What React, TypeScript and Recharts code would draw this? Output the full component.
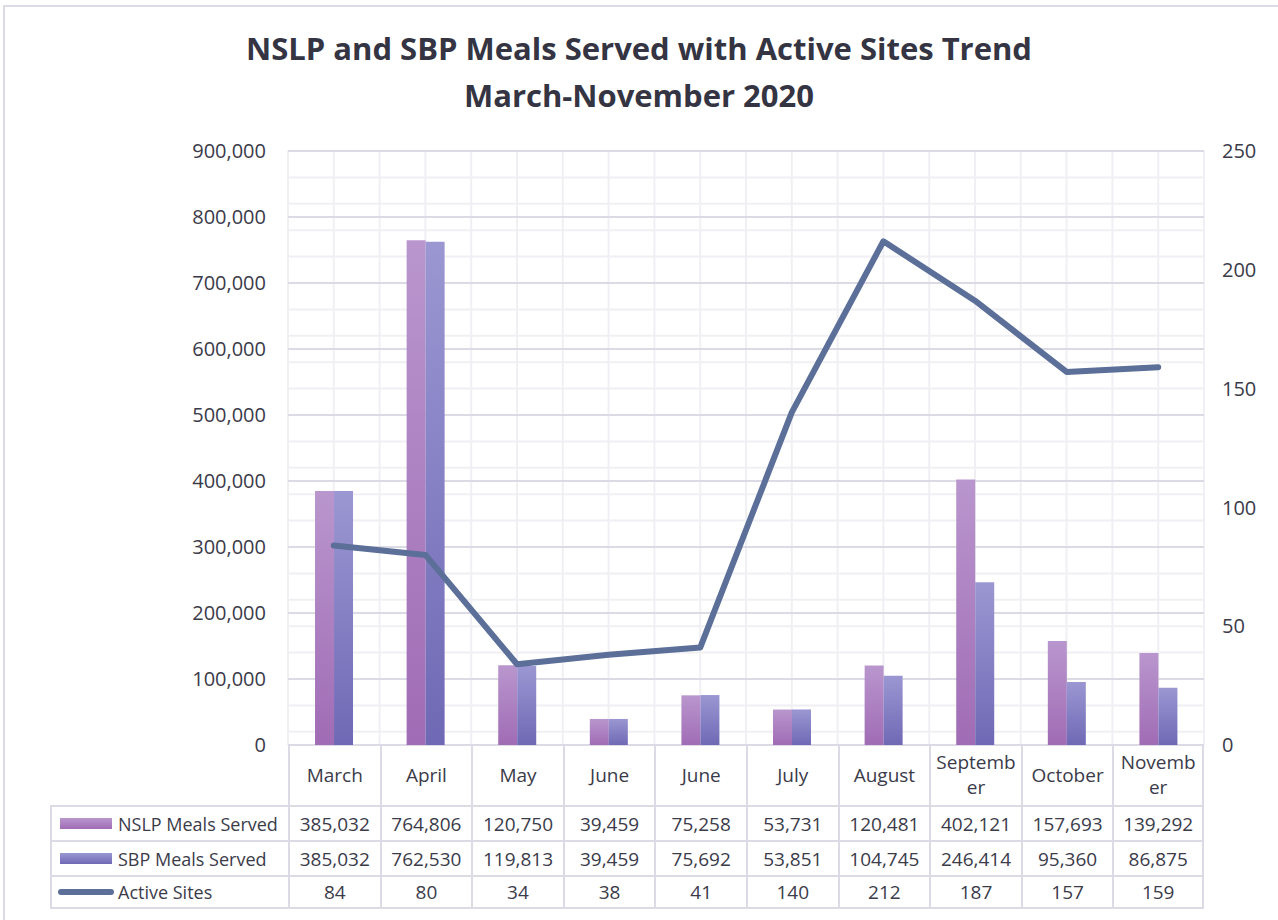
import { ComposedChart, Bar, Line, XAxis, YAxis, CartesianGrid } from 'recharts';

const months = ['March', 'April', 'May', 'June', 'June', 'July', 'August', 'September', 'October', 'November'];
const monthLabels = ['March', 'April', 'May', 'June', 'June', 'July', 'August', 'Septemb\ner', 'October', 'Novemb\ner'];
const nslpMeals = [385032, 764806, 120750, 39459, 75258, 53731, 120481, 402121, 157693, 139292];
const sbpMeals = [385032, 762530, 119813, 39459, 75692, 53851, 104745, 246414, 95360, 86875];
const activeSites = [84, 80, 34, 38, 41, 140, 212, 187, 157, 159];

const leftTicks = [0, 100000, 200000, 300000, 400000, 500000, 600000, 700000, 800000, 900000];
const minorTicks = Array.from({ length: 46 }, (_, i) => i * 20000);
const rightTicks = [0, 50, 100, 150, 200, 250];
const halfTicks = Array.from({ length: 21 }, (_, i) => i);

const data = months.map((m, i) => ({
  month: m,
  idx: i * 2 + 1,
  nslp: nslpMeals[i],
  sbp: sbpMeals[i],
  sites: activeSites[i],
}));

const W = 1278;
const H = 920;
const PL = 288;
const PR = 1204;
const PT = 151;
const PB = 745;
const colW = (PR - PL) / months.length;

const FONT = '"Open Sans", sans-serif';
const TEXT = '#3b3b4a';
const BORDER = '#dcdbe5';

const fmt = (v: number) => v.toLocaleString('en-US');

const rows = [
  { label: 'NSLP Meals Served', values: nslpMeals.map(fmt), kind: 'nslp' },
  { label: 'SBP Meals Served', values: sbpMeals.map(fmt), kind: 'sbp' },
  { label: 'Active Sites', values: activeSites.map(String), kind: 'line' },
];
const rowTops = [805, 840, 875, 909];

function Swatch({ kind }: { kind: string }) {
  if (kind === 'line') {
    return <div style={{ width: 56, height: 6, borderRadius: 3, background: '#5b6f98' }} />;
  }
  const bg = kind === 'nslp'
    ? 'linear-gradient(#b996cd, #a06cb5)'
    : 'linear-gradient(#9b97d2, #6f69b5)';
  return <div style={{ width: 52, height: 11, background: bg, margin: '0 2px' }} />;
}

export default function App() {
  return (
    <div style={{ position: 'absolute', left: 0, top: 0, width: W, height: H, background: '#fff', fontFamily: FONT, color: TEXT }}>
      <div style={{ position: 'absolute', left: 3, top: 5, width: W, height: H, border: `2px solid ${BORDER}`, boxSizing: 'border-box' }} />
      <div style={{ position: 'absolute', left: 0, width: W, top: 25, textAlign: 'center', fontWeight: 700, fontSize: 31, lineHeight: '47px', color: '#343443' }}>
        NSLP and SBP Meals Served with Active Sites Trend
        <br />
        March-November 2020
      </div>
      <div style={{ position: 'absolute', left: 0, top: 0 }}>
        <ComposedChart
          width={W}
          height={H}
          data={data}
          margin={{ top: PT, bottom: H - PB, left: 0, right: 0 }}
          barCategoryGap="29.5%"
          barGap={0}
        >
          <defs>
            <linearGradient id="gNslp" x1="0" y1="0" x2="0" y2="1">
              <stop offset="0%" stopColor="#b996cd" />
              <stop offset="100%" stopColor="#a06cb5" />
            </linearGradient>
            <linearGradient id="gSbp" x1="0" y1="0" x2="0" y2="1">
              <stop offset="0%" stopColor="#9b97d2" />
              <stop offset="100%" stopColor="#6f69b5" />
            </linearGradient>
          </defs>
          <XAxis xAxisId="cat" dataKey="month" hide />
          <XAxis xAxisId="half" dataKey="idx" type="number" domain={[0, 20]} ticks={halfTicks} hide />
          <YAxis
            yAxisId="left"
            width={PL}
            domain={[0, 900000]}
            ticks={leftTicks}
            tickFormatter={fmt}
            axisLine={false}
            tickLine={false}
            tickSize={0}
            tickMargin={22}
            tick={{ fill: TEXT, fontSize: 20, fontFamily: FONT }}
          />
          <YAxis
            yAxisId="right"
            orientation="right"
            width={W - PR}
            domain={[0, 250]}
            ticks={rightTicks}
            axisLine={false}
            tickLine={false}
            tickSize={0}
            tickMargin={18}
            tick={{ fill: TEXT, fontSize: 20, fontFamily: FONT }}
          />
          <CartesianGrid
            xAxisId="half"
            yAxisId="left"
            horizontalValues={minorTicks}
            verticalValues={halfTicks}
            stroke="#f0f0f4"
            strokeWidth={2}
          />
          <CartesianGrid xAxisId="cat" yAxisId="left" vertical={false} stroke={BORDER} strokeWidth={2} />
          <Bar xAxisId="cat" yAxisId="left" dataKey="nslp" fill="url(#gNslp)" isAnimationActive={false} />
          <Bar xAxisId="cat" yAxisId="left" dataKey="sbp" fill="url(#gSbp)" isAnimationActive={false} />
          <Line
            xAxisId="cat"
            yAxisId="right"
            dataKey="sites"
            stroke="#5b6f98"
            strokeWidth={6}
            strokeLinecap="round"
            strokeLinejoin="round"
            dot={false}
            activeDot={false}
            isAnimationActive={false}
          />
        </ComposedChart>
      </div>
      {/* data table */}
      {monthLabels.map((m, i) => (
        <div
          key={`h${i}`}
          style={{
            position: 'absolute', left: PL + i * colW, top: PB, width: colW, height: rowTops[0] - PB,
            borderLeft: `2px solid ${BORDER}`, borderRight: i === months.length - 1 ? `2px solid ${BORDER}` : undefined,
            boxSizing: 'border-box', display: 'flex', alignItems: 'center', justifyContent: 'center',
            textAlign: 'center', whiteSpace: 'pre-line', fontSize: 19, lineHeight: '25px',
          }}
        >
          {m}
        </div>
      ))}
      {rows.map((r, ri) => (
        <div key={r.label}>
          <div
            style={{
              position: 'absolute', left: 50, top: rowTops[ri], width: PL - 50, height: rowTops[ri + 1] - rowTops[ri],
              border: `2px solid ${BORDER}`, borderRight: 'none', borderBottom: ri === rows.length - 1 ? `2px solid ${BORDER}` : 'none',
              boxSizing: 'border-box', display: 'flex', alignItems: 'center', paddingLeft: 6, fontSize: 18, gap: 4,
            }}
          >
            <Swatch kind={r.kind} />
            <span>{r.label}</span>
          </div>
          {r.values.map((v, i) => (
            <div
              key={i}
              style={{
                position: 'absolute', left: PL + i * colW, top: rowTops[ri], width: colW, height: rowTops[ri + 1] - rowTops[ri],
                borderTop: `2px solid ${BORDER}`, borderLeft: `2px solid ${BORDER}`,
                borderRight: i === months.length - 1 ? `2px solid ${BORDER}` : undefined,
                borderBottom: ri === rows.length - 1 ? `2px solid ${BORDER}` : undefined,
                boxSizing: 'border-box', display: 'flex', alignItems: 'center', justifyContent: 'center', fontSize: 19,
              }}
            >
              {v}
            </div>
          ))}
        </div>
      ))}
    </div>
  );
}
